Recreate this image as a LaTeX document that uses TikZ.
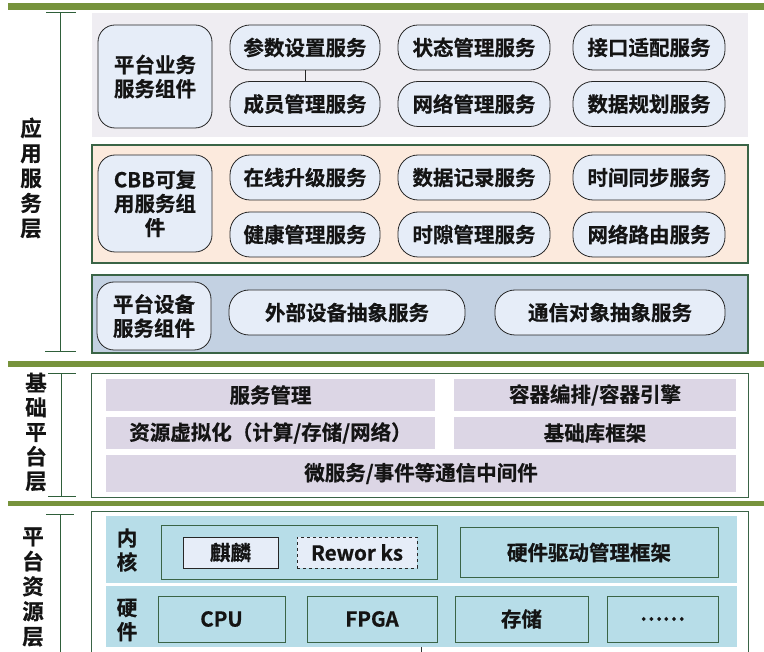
\documentclass[tikz,border=0pt]{standalone}
\usepackage{fontspec}
\setmainfont{Noto Sans CJK SC}[BoldFont={Noto Sans CJK SC Bold}, BoldFeatures={FakeBold=0.6}]
\definecolor{barg}{HTML}{77933C}
\definecolor{dkg}{HTML}{3A6446}
\definecolor{brk}{HTML}{2F5F3A}
\definecolor{pA}{HTML}{EFEDF2}
\definecolor{pB}{HTML}{FCEADD}
\definecolor{pC}{HTML}{C3D1E2}
\definecolor{capf}{HTML}{E6EDF8}
\definecolor{lav}{HTML}{DCD6E5}
\definecolor{band}{HTML}{B7DDE8}
\definecolor{txt}{HTML}{141414}
\tikzset{
  base/.style={inner sep=0pt, text=txt, font=\bfseries\fontsize{20.5}{24}\selectfont, align=center},
  panel/.style={base, draw=dkg, line width=1.1pt},
  capsule/.style={base, draw=black!85, fill=capf, rounded corners=20pt, line width=0.8pt},
  comp/.style={base, draw=black!85, fill=capf, rounded corners=17pt, line width=0.8pt},
  lavbox/.style={base, fill=lav},
  bandbox/.style={base, fill=band},
  hwbox/.style={base, draw=dkg, line width=1pt},
  kbox/.style={base, draw=black!85, fill=capf, line width=0.8pt},
  seclab/.style={base, font=\bfseries\fontsize{21.5}{25}\selectfont},
  brkline/.style={draw=brk, line width=1pt}
}
\begin{document}
\begin{tikzpicture}[x=1pt,y=-1pt]
\useasboundingbox (0,0) rectangle (764,652);
% green bars
\fill[barg] (8,3) rectangle (764,10);
\fill[barg] (8,361) rectangle (764,367);
\fill[barg] (8,501) rectangle (764,506);

% ---------------- Section 1 ----------------
\node[base, fill=pA, minimum width=656pt, minimum height=124pt] (panA) at (420,75) {};
\node[panel, fill=pB, minimum width=656pt, minimum height=118pt] (panB) at (420,204) {};
\node[panel, fill=pC, minimum width=656pt, minimum height=78pt] (panC) at (420,314) {};

\node[comp, minimum width=114pt, minimum height=103pt] (ga) at (155,76.5) {平台业务\\服务组件};
\node[capsule, minimum width=150pt, minimum height=45pt] (a1) at (305,47.5) {参数设置服务};
\node[capsule, minimum width=150pt, minimum height=45pt] (a2) at (305,104) {成员管理服务};
\node[capsule, minimum width=152pt, minimum height=45pt] (a3) at (474,47.5) {状态管理服务};
\node[capsule, minimum width=152pt, minimum height=45pt] (a4) at (474,104) {网络管理服务};
\node[capsule, minimum width=152pt, minimum height=45pt] (a5) at (649,47.5) {接口适配服务};
\node[capsule, minimum width=152pt, minimum height=45pt] (a6) at (649,104) {数据规划服务};
\draw[black!85, line width=0.8pt] (a1.south) -- (a2.north);

\node[comp, minimum width=114pt, minimum height=97pt] (gb) at (155,203.5) {CBB可复\\用服务组\\件};
\node[capsule, minimum width=150pt, minimum height=45pt] (b1) at (305,177.5) {在线升级服务};
\node[capsule, minimum width=150pt, minimum height=45pt] (b2) at (305,234.5) {健康管理服务};
\node[capsule, minimum width=152pt, minimum height=45pt] (b3) at (474,177.5) {数据记录服务};
\node[capsule, minimum width=152pt, minimum height=45pt] (b4) at (474,234.5) {时隙管理服务};
\node[capsule, minimum width=152pt, minimum height=45pt] (b5) at (649,177.5) {时间同步服务};
\node[capsule, minimum width=152pt, minimum height=45pt] (b6) at (649,234.5) {网络路由服务};

\node[comp, minimum width=114pt, minimum height=68pt] (gc) at (154,316) {平台设备\\服务组件};
\node[capsule, minimum width=236pt, minimum height=45pt] (c1) at (347,312.5) {外部设备抽象服务};
\node[capsule, minimum width=230pt, minimum height=45pt] (c2) at (610,312.5) {通信对象抽象服务};

% bracket 1
\coordinate (l1t) at (60,13); \coordinate (l1b) at (60,352);
\coordinate (l1tl) at (46,13); \coordinate (l1tr) at (76,13);
\coordinate (l1bl) at (45,352); \coordinate (l1br) at (76,352);
\draw[brkline] (l1t) -- (l1b);
\draw[brkline] (l1tl) -- (l1tr);
\draw[brkline] (l1bl) -- (l1br);
\node[seclab] (lab1) at (31,178) {应\\用\\服\\务\\层};

% ---------------- Section 2 ----------------
\node[base, draw=dkg, line width=1pt, fill=white, minimum width=657pt, minimum height=124pt] (outer2) at (419.5,436) {};
\node[lavbox, minimum width=329pt, minimum height=32pt] (s1) at (270.5,395) {服务管理};
\node[lavbox, minimum width=282pt, minimum height=32pt] (s2) at (595,395) {容器编排/容器引擎};
\node[lavbox, minimum width=329pt, minimum height=32pt] (s3) at (270.5,433) {资源虚拟化（计算/存储/网络）};
\node[lavbox, minimum width=282pt, minimum height=32pt] (s4) at (595,433) {基础库框架};
\node[lavbox, minimum width=630pt, minimum height=37pt] (s5) at (421,473.5) {微服务/事件等通信中间件};

\coordinate (l2t) at (61,374); \coordinate (l2b) at (61,497);
\coordinate (l2tl) at (48,374); \coordinate (l2tr) at (76,374);
\coordinate (l2bl) at (48,497); \coordinate (l2br) at (76,497);
\draw[brkline] (l2t) -- (l2b);
\draw[brkline] (l2tl) -- (l2tr);
\draw[brkline] (l2bl) -- (l2br);
\node[seclab, font=\bfseries\fontsize{21.5}{24.5}\selectfont] (lab2) at (36,432) {基\\础\\平\\台\\层};

% ---------------- Section 3 ----------------
\node[base, draw=dkg, line width=1pt, fill=white, minimum width=657pt, minimum height=140pt] (outer3) at (419.5,582) {};
\node[bandbox, minimum width=631pt, minimum height=67pt] (band1) at (421.5,549.5) {};
\node[bandbox, minimum width=631pt, minimum height=61pt] (band2) at (421.5,616.5) {};
\node[base, font=\bfseries\fontsize{20.5}{24}\selectfont] (nh) at (127,550) {内\\核};
\node[base, font=\bfseries\fontsize{20.5}{24}\selectfont] (yj) at (127,620) {硬\\件};

\node[hwbox, minimum width=276pt, minimum height=53pt] (kg) at (299,552.5) {};
\node[kbox, minimum width=95pt, minimum height=31pt] (k1) at (230.5,552.5) {麒麟};
\node[kbox, dashed, minimum width=120pt, minimum height=31pt] (k2) at (357,552.5) {Rewor ks};
\node[hwbox, minimum width=258pt, minimum height=49pt] (k3) at (589,552.5) {硬件驱动管理框架};

\node[hwbox, minimum width=127pt, minimum height=46pt] (h1) at (221.5,619) {CPU};
\node[hwbox, minimum width=130pt, minimum height=46pt] (h2) at (372,619) {FPGA};
\node[hwbox, minimum width=133pt, minimum height=46pt] (h3) at (521.5,619) {存储};
\node[hwbox, minimum width=111pt, minimum height=46pt] (h4) at (662.5,619) {……};

\coordinate (stubA) at (421,647); \coordinate (stubB) at (421,653);
\draw[black!80, line width=0.8pt] (stubA) -- (stubB);

\coordinate (l3t) at (60,515); \coordinate (l3b) at (60,653);
\coordinate (l3tl) at (46,515); \coordinate (l3tr) at (74,515);
\draw[brkline] (l3t) -- (l3b);
\draw[brkline] (l3tl) -- (l3tr);
\node[seclab] (lab3) at (33,587) {平\\台\\资\\源\\层};
\end{tikzpicture}
\end{document}
